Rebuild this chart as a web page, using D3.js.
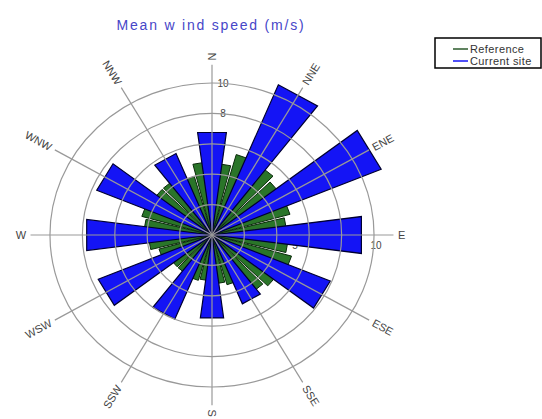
<!DOCTYPE html>
<html>
<head>
<meta charset="utf-8">
<script src="https://cdn.jsdelivr.net/npm/d3@7"></script>
<style>
  body { margin: 0; background: #fff; }
  svg { display: block; font-family: "Liberation Sans", Arial, sans-serif; }
</style>
</head>
<body>
<div id="chart"></div>
<script>
// Sector names (12 spokes, 30 degrees apart, as labelled in the original)
const spokeLabels = ["N", "NNE", "ENE", "E", "ESE", "SSE", "S", "SSW", "WSW", "W", "WNW", "NNW"];
const spokeAngles = [0, 30, 60, 90, 120, 150, 180, 210, 240, 270, 300, 330];

// Current site: mean wind speed per 30 degree sector (m/s)
const currentAngles = [0, 30, 60, 90, 120, 150, 180, 210, 240, 270, 300, 330];
const currentValues = [6.8, 10.7, 11.3, 9.3, 7.9, 4.9, 5.5, 6.0, 7.6, 7.8, 7.7, 5.8];

// Reference: mean wind speed per 10 degree sector (m/s)
const referenceAngles = d3.range(0, 360, 10);
const referenceValues = [4.5, 4.7, 5.5, 5.6, 5.4, 5.0, 5.2, 5.0, 4.6, 4.4, 4.7, 5.1,
                         5.0, 4.8, 4.5, 3.8, 3.4, 3.2, 3.0, 3.0, 3.1, 3.0, 3.0, 3.0,
                         3.2, 3.4, 3.9, 4.0, 4.2, 4.5, 4.4, 4.3, 4.3, 4.1, 4.0, 4.8];

// Ring values and axis tick labels
const ringValues = [2, 4, 6, 8, 10];
const northTicks = [2, 4, 6, 8, 10];
const eastTicks = [5, 10];

const width = 542, height = 419;
const cx = 212, cy = 235;
const sx = 1.066;   // the original plot is slightly wider than tall

const svg = d3.select("#chart").append("svg")
    .attr("width", width)
    .attr("height", height);

const r = d3.scaleLinear().domain([0, 10]).range([0, 152]);

// polar -> screen (angle in degrees clockwise from north)
function pt(deg, v) {
    const a = deg * Math.PI / 180;
    return [cx + sx * r(v) * Math.sin(a), cy - r(v) * Math.cos(a)];
}
function visualDeg(deg) {
    const a = deg * Math.PI / 180;
    return Math.atan2(sx * Math.sin(a), Math.cos(a)) * 180 / Math.PI;
}
function wedge(deg, v, halfWidth) {
    const p1 = pt(deg - halfWidth, v), p2 = pt(deg + halfWidth, v);
    return `M${cx},${cy}L${p1[0]},${p1[1]}L${p2[0]},${p2[1]}Z`;
}

// Title
svg.append("text")
    .attr("x", 211)
    .attr("y", 30)
    .attr("text-anchor", "middle")
    .style("font-size", "14px")
    .style("letter-spacing", "1.8px")
    .style("fill", "#4646c8")
    .text("Mean w ind speed (m/s)");

// Ring tick labels (drawn first, the bars cover most of them)
svg.append("g").selectAll("text")
    .data(northTicks)
    .enter().append("text")
    .attr("x", cx + 11)
    .attr("y", d => cy - r(d))
    .attr("dy", "0.35em")
    .attr("text-anchor", "middle")
    .style("font-size", "10px")
    .style("fill", "#444")
    .text(d => d);

svg.append("g").selectAll("text")
    .data(eastTicks)
    .enter().append("text")
    .attr("x", d => cx + sx * r(d) + 2)
    .attr("y", cy + 14)
    .attr("text-anchor", "middle")
    .style("font-size", "10px")
    .style("fill", "#444")
    .text(d => d);

// Reference bars (green, 10 degree sectors)
svg.append("g").selectAll("path")
    .data(referenceAngles)
    .enter().append("path")
    .attr("d", (d, i) => wedge(d, referenceValues[i], 4.2))
    .attr("fill", "#2a7529")
    .attr("stroke", "#0a2a0a")
    .attr("stroke-width", 1);

// Current site bars (blue, 30 degree sectors)
svg.append("g").selectAll("path")
    .data(currentAngles)
    .enter().append("path")
    .attr("d", (d, i) => wedge(d, currentValues[i], 7.5))
    .attr("fill", "#1414f5")
    .attr("stroke", "#000030")
    .attr("stroke-width", 1.2);

// Grid rings on top
svg.append("g").selectAll("ellipse")
    .data(ringValues)
    .enter().append("ellipse")
    .attr("cx", cx)
    .attr("cy", cy)
    .attr("rx", d => sx * r(d))
    .attr("ry", d => r(d))
    .attr("fill", "none")
    .attr("stroke", "#999")
    .attr("stroke-width", 1.2);

// Spokes
const spokeLen = 11.2;
svg.append("g").selectAll("line")
    .data(spokeAngles)
    .enter().append("line")
    .attr("x1", cx)
    .attr("y1", cy)
    .attr("x2", d => pt(d, spokeLen)[0])
    .attr("y2", d => pt(d, spokeLen)[1])
    .attr("stroke", "#999")
    .attr("stroke-width", 1.2);

// Spoke labels, rotated along the spoke
svg.append("g").selectAll("text")
    .data(spokeAngles)
    .enter().append("text")
    .attr("transform", d => {
        const p = pt(d, spokeLen + 0.15);
        const v = visualDeg(d);
        const rot = d <= 180 ? v - 90 : v + 90;
        return `translate(${p[0]},${p[1]}) rotate(${rot})`;
    })
    .attr("text-anchor", d => d <= 180 ? "start" : "end")
    .attr("dx", d => d <= 180 ? 2 : -2)
    .attr("dy", "0.35em")
    .style("font-size", "11px")
    .style("fill", "#444")
    .text((d, i) => spokeLabels[i]);

// Legend
const legend = svg.append("g").attr("transform", "translate(435,38)");
legend.append("rect")
    .attr("width", 106)
    .attr("height", 30)
    .attr("fill", "#fff")
    .attr("stroke", "#000")
    .attr("stroke-width", 1.5);

const legendItems = ["Reference", "Current site"];
const legendColors = ["#2b5a2b", "#1414f5"];
legendItems.forEach((name, i) => {
    const y = 11 + i * 12;
    legend.append("line")
        .attr("x1", 18).attr("x2", 33)
        .attr("y1", y).attr("y2", y)
        .attr("stroke", legendColors[i])
        .attr("stroke-width", 1.5);
    legend.append("text")
        .attr("x", 35)
        .attr("y", y)
        .attr("dy", "0.35em")
        .style("font-size", "11px")
        .style("letter-spacing", "0.4px")
        .style("fill", "#333")
        .text(name);
});
</script>
</body>
</html>
